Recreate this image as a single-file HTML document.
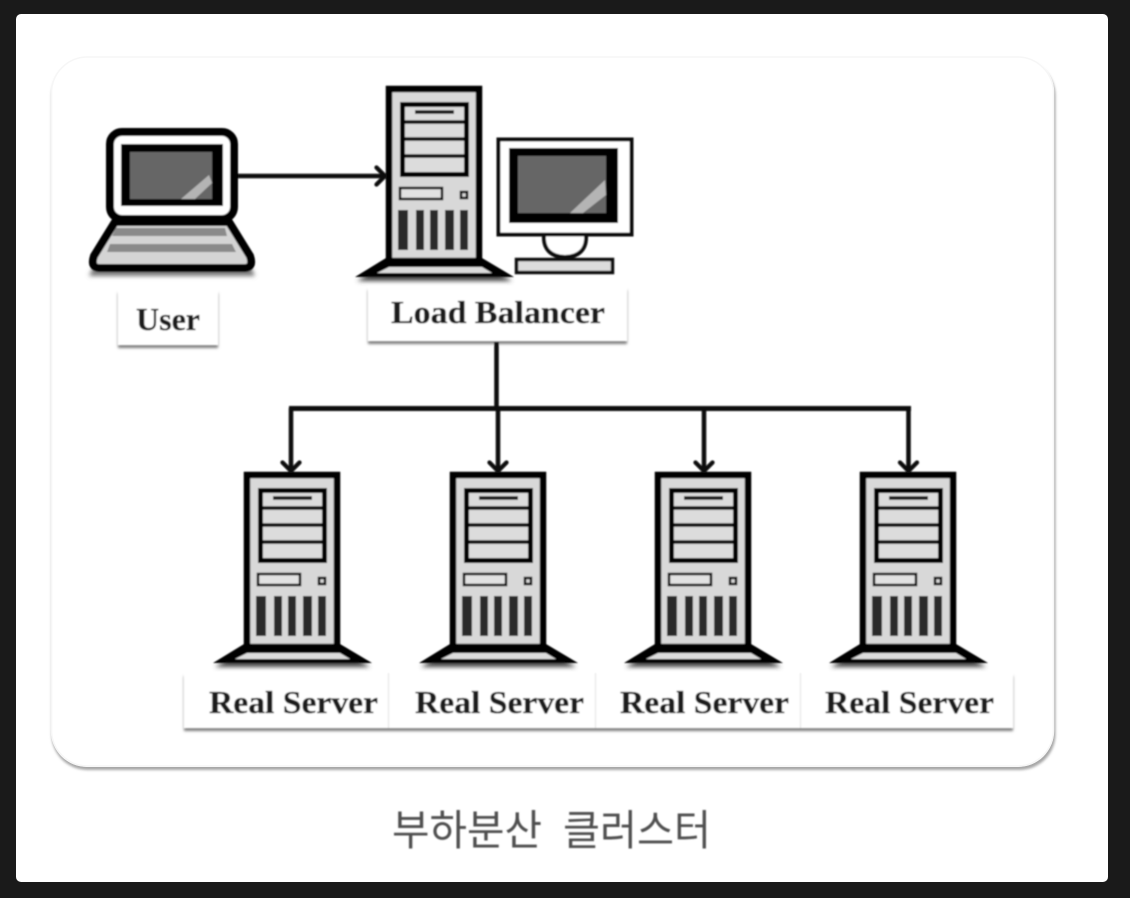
<!DOCTYPE html>
<html lang="ko">
<head>
<meta charset="utf-8">
<title>부하분산 클러스터</title>
<style>
html,body{margin:0;padding:0;background:#1a1a1a;width:1130px;height:898px;overflow:hidden}
svg{display:block}
.lbl{font-family:"Liberation Serif","Noto Serif CJK SC",serif;font-weight:bold;font-size:32px;fill:#1c1c1c;stroke:#1c1c1c;stroke-width:.3}
.cap{font-family:"Liberation Sans","Noto Sans CJK KR",sans-serif;font-size:42px;fill:#505050}
</style>
</head>
<body>
<svg width="1130" height="898" viewBox="0 0 1130 898" xmlns="http://www.w3.org/2000/svg">
<defs>
  <filter id="b" x="-5%" y="-5%" width="110%" height="110%"><feGaussianBlur stdDeviation="0.8"/></filter>
  <filter id="s" x="-10%" y="-100%" width="120%" height="300%"><feGaussianBlur stdDeviation="2"/></filter>
  <filter id="s2" x="-5%" y="-5%" width="110%" height="110%"><feGaussianBlur stdDeviation="1.4"/></filter>
  <g id="server">
    <polygon points="-29,191 126,191 96,173 0,173" fill="#444" transform="translate(0,4)" filter="url(#s)"/>
    <rect x="3" y="3" width="90" height="172" fill="#d8d8d8" stroke="#050505" stroke-width="6.500"/>
    <polygon points="-31,191 128,191 96,172 0,172" fill="#050505"/>
    <polygon points="-9,187 106,187 96,181 3,181" fill="#dcdcdc"/>
    <rect x="16.500" y="18.500" width="64" height="70" fill="#dcdcdc" stroke="#050505" stroke-width="5"/>
    <path d="M16 36H81M16 53H81M16 70H81" stroke="#050505" stroke-width="3.500" fill="none"/>
    <path d="M29 26H68" stroke="#111" stroke-width="3.500" fill="none"/>
    <rect x="14" y="102" width="42" height="11" fill="#e2e2e2" stroke="#111" stroke-width="2.500"/>
    <rect x="75" y="106" width="6" height="6" fill="#d8d8d8" stroke="#111" stroke-width="2.500"/>
    <rect x="12" y="124" width="10" height="40" fill="#2c2c2c"/>
    <rect x="30" y="124" width="8" height="40" fill="#2c2c2c"/>
    <rect x="44" y="124" width="8" height="40" fill="#2c2c2c"/>
    <rect x="59" y="124" width="9" height="40" fill="#2c2c2c"/>
    <rect x="74" y="124" width="8" height="40" fill="#2c2c2c"/>
  </g>
  <path id="chev" d="M-10 -10L0 0L-10 10" fill="none" stroke="#0c0c0c" stroke-width="5" stroke-linecap="round" stroke-linejoin="round"/>
</defs>

<rect width="1130" height="898" fill="#1a1a1a"/>
<rect x="16" y="14" width="1092" height="868" rx="5" fill="#fff"/>

<!-- panel -->
<rect x="51.500" y="60" width="1004" height="710" rx="36" fill="#a6a6a6" filter="url(#s2)"/>
<rect x="51" y="56" width="1003" height="711" rx="36" fill="#fff"/>
<rect x="51.500" y="57" width="1002" height="709" rx="36" fill="none" stroke="#f6f6f6" stroke-width="1.500"/>

<g filter="url(#b)">
  <!-- label boxes -->
  <g fill="#808080" filter="url(#s2)">
    <rect x="118" y="293" width="100" height="55"/>
    <rect x="368" y="290" width="259" height="54"/>
    <rect x="184" y="676" width="205" height="55"/>
    <rect x="389" y="676" width="212" height="55"/>
    <rect x="596" y="676" width="210" height="55"/>
    <rect x="801" y="676" width="212" height="55"/>
  </g>
  <g fill="#fff">
    <rect x="118" y="290" width="100" height="55"/>
    <rect x="368" y="287" width="259" height="54"/>
    <rect x="184" y="673" width="204" height="55"/>
    <rect x="389" y="673" width="211" height="55"/>
    <rect x="596" y="673" width="209" height="55"/>
    <rect x="801" y="673" width="212" height="55"/>
  </g>
  <path d="M388.500 673V728M595.500 673V728M800.500 673V728" stroke="#e2e2e2" stroke-width="1"/>

  <!-- laptop -->
  <polygon points="89,272 255,272 232,223 113,223" fill="#777" transform="translate(0,4)" filter="url(#s)"/>
  <path d="M115 222H229L250 256Q254 268 244 268H100Q90 268 94 256Z" fill="#d4d4d4" stroke="#050505" stroke-width="8" stroke-linejoin="round"/>
  <polygon points="116,228 225,228 227,236 112,236" fill="#8a8a8a"/>
  <polygon points="110,244 232,244 236,252 107,252" fill="#8a8a8a"/>
  <rect x="110" y="132" width="124" height="87" rx="12" fill="#fff" stroke="#050505" stroke-width="8"/>
  <rect x="121" y="144" width="102" height="62" fill="#050505"/>
  <rect x="130" y="152" width="82" height="47" fill="#666"/>
  <polygon points="181,199 209,175 212,183 195,199" fill="#b4b4b4"/>

  <!-- monitor -->
  <rect x="516.500" y="259.500" width="96" height="13" fill="#dcdcdc" stroke="#111" stroke-width="3.500"/>
  <path d="M544 235C543 250 552 257 565 257C578 257 587 250 586 235" fill="#fff" stroke="#111" stroke-width="4"/>
  <rect x="498.500" y="139.500" width="133" height="95" fill="#fff" stroke="#0c0c0c" stroke-width="4"/>
  <rect x="509" y="148" width="109" height="75" fill="#050505"/>
  <rect x="518" y="156" width="88" height="57" fill="#666"/>
  <polygon points="570,213 605,180 606,195 583,213" fill="#b4b4b4"/>

  <!-- servers -->
  <use href="#server" x="386" y="86"/>
  <use href="#server" x="244" y="472"/>
  <use href="#server" x="450" y="472"/>
  <use href="#server" x="655" y="472"/>
  <use href="#server" x="860" y="472"/>

  <!-- connectors -->
  <path d="M238 176H385" stroke="#0c0c0c" stroke-width="4.500" fill="none"/>
  <use href="#chev" transform="translate(385,176) scale(.85)"/>
  <path d="M496.500 342V408" stroke="#0c0c0c" stroke-width="4.500" fill="none"/>
  <path d="M289 408.500H911" stroke="#0c0c0c" stroke-width="5" fill="none"/>
  <path d="M291 408V471M498 408V471M704 408V471M908.500 408V471" stroke="#0c0c0c" stroke-width="4.500" fill="none"/>
  <use href="#chev" transform="translate(291,471) rotate(90) scale(.85)"/>
  <use href="#chev" transform="translate(498,471) rotate(90) scale(.85)"/>
  <use href="#chev" transform="translate(704,471) rotate(90) scale(.85)"/>
  <use href="#chev" transform="translate(908.500,471) rotate(90) scale(.85)"/>

  <!-- labels -->
  <text class="lbl" x="136" y="330" textLength="64" lengthAdjust="spacingAndGlyphs">User</text>
  <text class="lbl" x="391" y="323" textLength="214" lengthAdjust="spacingAndGlyphs">Load Balancer</text>
  <text class="lbl" x="209" y="713" textLength="169" lengthAdjust="spacingAndGlyphs">Real Server</text>
  <text class="lbl" x="415" y="713" textLength="169" lengthAdjust="spacingAndGlyphs">Real Server</text>
  <text class="lbl" x="620" y="713" textLength="169" lengthAdjust="spacingAndGlyphs">Real Server</text>
  <text class="lbl" x="825" y="713" textLength="169" lengthAdjust="spacingAndGlyphs">Real Server</text>
  <text class="cap" x="392" y="845" textLength="150" lengthAdjust="spacingAndGlyphs">부하분산</text>
  <text class="cap" x="563" y="845" textLength="148" lengthAdjust="spacingAndGlyphs">클러스터</text>
</g>
</svg>
</body>
</html>
